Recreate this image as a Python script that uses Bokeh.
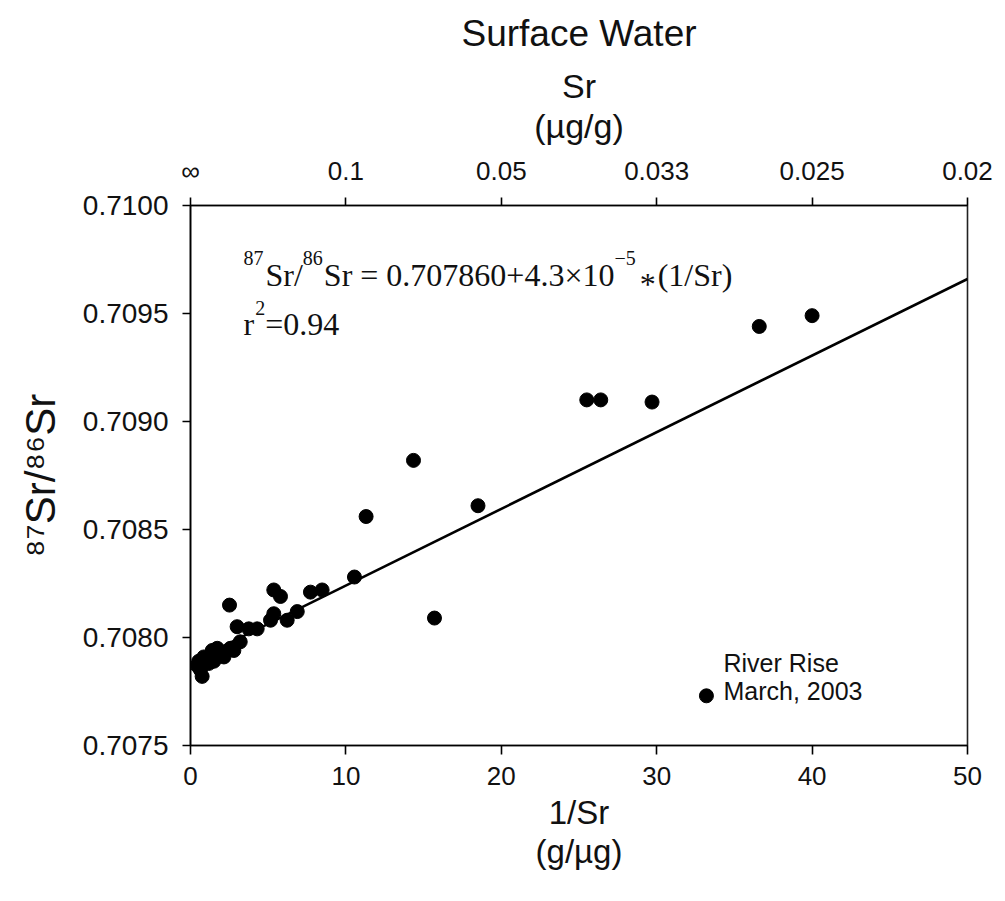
from bokeh.plotting import figure
from bokeh.models import Label, FixedTicker, LinearAxis, Range1d
from bokeh.embed import file_html
from bokeh.resources import INLINE

# ---- data ----
inv_sr = [0.43, 0.53, 0.64, 0.75, 0.86, 1.0, 1.18, 1.4, 1.5, 1.72, 1.93, 2.15, 2.57, 2.79,
          3.0, 3.2, 2.51, 3.75, 4.29, 5.15, 5.36, 5.36, 5.79, 6.22, 6.87, 7.72, 8.47,
          10.55, 11.3, 14.35, 15.7, 18.5, 25.5, 26.4, 29.7, 33.2, 36.6, 40.0]
ratio = [0.70787, 0.70789, 0.70785, 0.70782, 0.70791, 0.70790, 0.70788, 0.70794, 0.70789,
         0.70795, 0.70793, 0.70791, 0.70795, 0.70794, 0.70805, 0.70798, 0.70815, 0.70804,
         0.70804, 0.70808, 0.70811, 0.70822, 0.70819, 0.70808, 0.70812, 0.70821, 0.70822,
         0.70828, 0.70856, 0.70882, 0.70809, 0.70861, 0.70910, 0.70910, 0.70909, 0.70773,
         0.70944, 0.70949]
fit_x = [0.4, 50.0]
fit_y = [0.70790, 0.70966]

x_ticks = [0, 10, 20, 30, 40, 50]
top_tick_labels = ["\u221e", "0.1", "0.05", "0.033", "0.025", "0.02"]
y_ticks = [0.7075, 0.7080, 0.7085, 0.7090, 0.7095, 0.7100]
y_tick_labels = ["0.7075", "0.7080", "0.7085", "0.7090", "0.7095", "0.7100"]

title_text = "Surface Water"
top_label = "Sr\n(\u00b5g/g)"
bottom_label = "1/Sr\n(g/\u00b5g)"
left_label = "\u2078\u2077Sr/\u2078\u2076Sr"
annot = ["River Rise", "March, 2003"]

# ---- layout ----
W, H = 1005, 901
FL, FR, FT, FB = 190, 967, 203, 745
XMIN, XMAX = 0, 50
YMIN, YMAX = 0.7075, 0.7100

def ax(px):
    return XMIN + (px - FL) * (XMAX - XMIN) / (FR - FL)

def ay(py):
    return YMAX - (py - FT) * (YMAX - YMIN) / (FB - FT)

SANS = "Liberation Sans"
SERIF = "Liberation Serif"

p = figure(width=W, height=H, x_range=Range1d(XMIN, XMAX), y_range=Range1d(YMIN, YMAX),
           output_backend="svg", toolbar_location=None, title=title_text,
           min_border_left=FL, min_border_right=W - FR, min_border_top=FT, min_border_bottom=H - FB)
p.background_fill_color = "white"
p.border_fill_color = "white"
p.outline_line_color = "#222222"
p.outline_line_width = 1.6
p.xgrid.visible = False
p.ygrid.visible = False

p.title.align = "center"
p.title.text_font = SANS
p.title.text_font_size = "37px"
p.title.text_font_style = "normal"
p.title.text_color = "#111111"
p.title.standoff = 20

def style_axis(a, size):
    a.axis_line_color = "black"
    a.axis_line_width = 1.6
    a.major_tick_line_color = "black"
    a.major_tick_line_width = 1.6
    a.major_tick_in = 0
    a.major_tick_out = 9
    a.minor_tick_in = 0
    a.minor_tick_out = 0
    a.major_label_text_font = SANS
    a.major_label_text_font_size = size
    a.major_label_text_color = "#111111"
    a.axis_label_text_font = SANS
    a.axis_label_text_font_style = "normal"
    a.axis_label_text_color = "#111111"

xa = p.xaxis[0]
xa.ticker = FixedTicker(ticks=x_ticks)
style_axis(xa, "26px")
xa.major_label_standoff = 12
xa.axis_label = bottom_label
xa.axis_label_text_font_size = "33px"
xa.axis_label_text_line_height = 1.08
xa.axis_label_standoff = 6

ya = p.yaxis[0]
ya.ticker = FixedTicker(ticks=y_ticks)
ya.major_label_overrides = {t: s for t, s in zip(y_ticks, y_tick_labels)}
style_axis(ya, "28px")
ya.major_tick_out = 8
ya.major_label_standoff = 14
ya.axis_label = left_label
ya.axis_label_text_font_size = "42px"
ya.axis_label_standoff = 16

top = LinearAxis(ticker=FixedTicker(ticks=x_ticks),
                 major_label_overrides={t: s for t, s in zip(x_ticks, top_tick_labels)})
style_axis(top, "26px")
top.major_tick_out = 8
top.major_label_standoff = 12
top.axis_label = top_label
top.axis_label_text_font_size = "34px"
top.axis_label_text_line_height = 1.05
top.axis_label_standoff = 8
p.add_layout(top, "above")

# ---- marks ----
p.line(fit_x, fit_y, line_color="black", line_width=2.6)
p.scatter(inv_sr, ratio, size=14, marker="circle", fill_color="black", line_color="black")

def lab(px, py, text, size, font=SANS, align="left"):
    p.add_layout(Label(x=ax(px), y=ay(py), text=text, text_font=font,
                       text_font_size=f"{size}px", text_align=align,
                       text_baseline="alphabetic", text_color="#111111"))

# equation
M, S = 32, 20
x0 = 243
eq_pieces = [("87", S, 256, 1.0, 2), ("Sr/", M, 273, 1.167, 0), ("86", S, 256, 1.0, 1),
             ("Sr = 0.707860+4.3\u00d710", M, 273, 9.081, 0), ("\u22125", S, 256, 1.064, 4),
             ("*", M, 282, 0.5, 2), ("(1/Sr)", M, 273, 2.333, 0)]
xx = x0
for txt, sz, by, em, gap in eq_pieces:
    lab(xx, by, txt, sz, font=SERIF)
    xx += em * sz + gap
lab(243, 322, "r", M, font=SERIF)
lab(243 + 0.333 * M + 1, 306, "2", S, font=SERIF)
lab(243 + 0.333 * M + 0.5 * S + 1, 322, " =0.94", M, font=SERIF)

# River Rise annotation
lab(723, 662, annot[0], 25)
lab(723, 690, annot[1], 25)

open("out.html", "w").write(file_html(p, INLINE))
